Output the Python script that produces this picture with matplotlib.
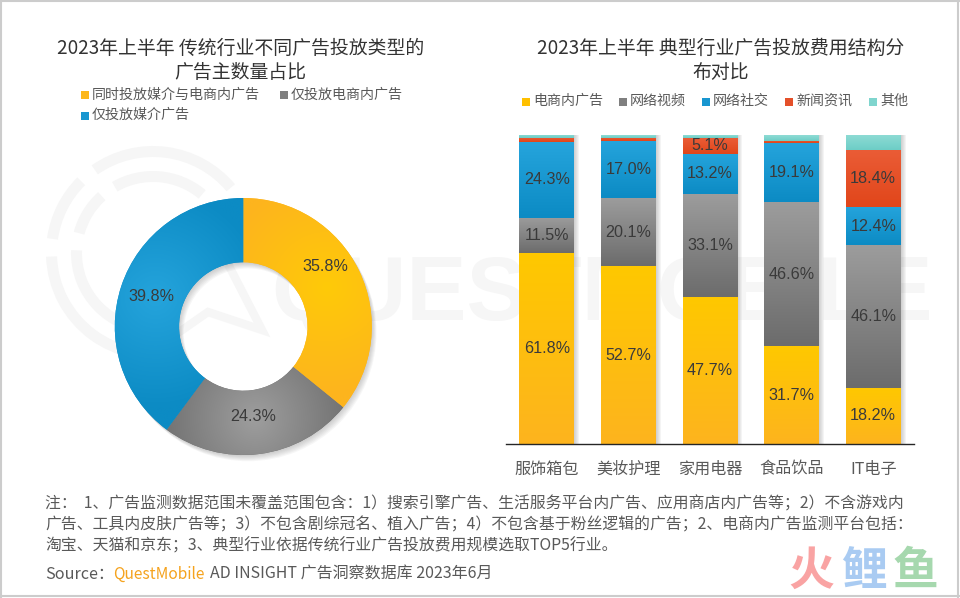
#!/usr/bin/env python3
"""2023 H1 ad placement: donut of advertiser share and stacked bars of spend structure."""
import numpy as np
import matplotlib
matplotlib.use("Agg")
import matplotlib.pyplot as plt
from matplotlib.colors import to_rgb
from matplotlib.patches import Rectangle, Wedge
from matplotlib.lines import Line2D

plt.rcParams["font.family"] = ["Noto Sans CJK SC", "DejaVu Sans"]

W, H = 960, 598

# donut
pie_names = ["同时投放媒介与电商内广告", "仅投放电商内广告", "仅投放媒介广告"]
pie_values = [35.8, 24.3, 39.8]

# stacked bars, the source chart is 100% stacked so each column is rescaled to its own total
categories = ["服饰箱包", "美妆护理", "家用电器", "食品饮品", "IT电子"]
series_names = ["电商内广告", "网络视频", "网络社交", "新闻资讯", "其他"]
ecommerce = [61.8, 52.7, 47.7, 31.7, 18.2]
video = [11.5, 20.1, 33.1, 46.6, 46.1]
social = [24.3, 17.0, 13.2, 19.1, 12.4]
news = [1.3, 0.9, 5.1, 0.8, 18.4]
other = [1.1, 0.8, 0.9, 1.8, 4.9]

note_lines = [
    "注：  1、广告监测数据范围未覆盖范围包含：1）搜索引擎广告、生活服务平台内广告、应用商店内广告等；2）不含游戏内",
    "广告、工具内皮肤广告等；3）不包含剧综冠名、植入广告；4）不包含基于粉丝逻辑的广告；2、电商内广告监测平台包括：",
    "淘宝、天猫和京东；3、典型行业依据传统行业广告投放费用规模选取TOP5行业。",
]

YELLOW = ("#FFC800", "#FDB41E")
GREY = ("#9C9C9C", "#6C6C6C")
BLUE = ("#25A4DC", "#0C8BC4")
RED = ("#EA5C36", "#E1461A")
TEAL = ("#8FDCD5", "#6DCDC6")
series_colors = [YELLOW, GREY, BLUE, RED, TEAL]
TEXT = "#595959"
LABEL = "#3A3A3A"


def fx(px):
    return px / W


def fy(py):
    return 1 - py / H


def box(left, top, right, bottom):
    return [fx(left), fy(bottom), (right - left) / W, (bottom - top) / H]


def put(x, y, s, size, color=TEXT, ha="left", **kw):
    return fig.text(fx(x), fy(y), s, fontsize=size, color=color, ha=ha, va="center", **kw)


def v_grad(ax, rect, colors):
    x, y = rect.get_xy()
    top, bot = np.array(to_rgb(colors[0])), np.array(to_rgb(colors[1]))
    t = np.linspace(0, 1, 64)[:, None, None]
    img = top * (1 - t) + bot * t
    ax.imshow(img, extent=(x, x + rect.get_width(), y, y + rect.get_height()),
              aspect="auto", origin="upper", zorder=3, interpolation="bilinear")


fig = plt.figure(figsize=(W / 100, H / 100), dpi=100, facecolor="white")

# watermark, behind everything
bg = fig.add_axes([0, 0, 1, 1], zorder=0)
bg.set_xlim(0, W)
bg.set_ylim(H, 0)
bg.axis("off")
WM = "#F6F6F6"
for r, spans in [(107, [(40, 125), (135, 172), (182, 285)]), (82, [(50, 120), (132, 165), (178, 270)])]:
    for a0, a1 in spans:
        # y axis is flipped here, so angles are mirrored
        bg.add_patch(Wedge((153, 253), r, 360 - a1, 360 - a0, width=11, fc=WM, ec="none"))
bg.add_line(Line2D([227, 262, 208, 175], [262, 330, 312, 335], color=WM, lw=6, solid_joinstyle="miter"))
bg.text(602, 296, "QUESTMOBILE", fontsize=65, color=WM, ha="center", va="center",
        family="Liberation Sans", fontweight="bold")

# frame of the slide
for xs, ys in [((0, W), (1, 1)), ((1, 1), (0, H)), ((W - 2, W - 2), (0, H)), ((0, W), (H - 2, H - 2))]:
    bg.add_line(Line2D(xs, ys, color="#CCCCCC", lw=1.5))

# donut
R_PX = 128.5
LIM = 1.12
cx, cy = 243.3, 326.5
half = R_PX * LIM
ax_pie = fig.add_axes(box(cx - half, cy - half, cx + half, cy + half), zorder=2)
ax_pie.patch.set_alpha(0)
for k in range(1, 7):
    off = k * 0.65 / R_PX
    ax_pie.add_patch(Wedge((off * 1.2, -off * 1.6), 1.0, 0, 360, width=0.5, fc="#555555",
                           ec="none", alpha=0.05, zorder=1))
wedges, _ = ax_pie.pie(pie_values, startangle=90, counterclock=False, radius=1.0,
                       wedgeprops=dict(width=0.5, ec="none"),
                       colors=[c[1] for c in (YELLOW, GREY, BLUE)])
grid = np.linspace(-1.02, 1.02, 420)
gx, gy = np.meshgrid(grid, grid)
pie_grad = [("#FFCA08", "#FDB41E"), ("#9E9E9E", "#6A6A6A"), ("#25A4DC", "#0C8BC4")]
label_shift = [(-5, -19), (-2, -5), (-1, 0)]
for w, cols, val, shift in zip(wedges, pie_grad, pie_values, label_shift):
    mid = np.radians((w.theta1 + w.theta2) / 2)
    c0, c1 = np.array(to_rgb(cols[0])), np.array(to_rgb(cols[1]))
    d = np.hypot(gx - 0.72 * np.cos(mid), gy - 0.72 * np.sin(mid))
    t = np.clip(d / 0.85, 0, 1)[:, :, None]
    im = ax_pie.imshow(c0 * (1 - t) + c1 * t, extent=(-1.02, 1.02, -1.02, 1.02),
                       origin="lower", zorder=3, interpolation="bilinear")
    im.set_clip_path(w)
    ax_pie.annotate(f"{val:.1f}%", (0.747 * np.cos(mid), 0.747 * np.sin(mid)),
                    xytext=(shift[0] * 0.72, -shift[1] * 0.72), textcoords="offset points",
                    ha="center", va="center", fontsize=11.6, color=LABEL,
                    family="Liberation Sans", zorder=5)
ax_pie.set_xlim(-LIM, LIM)
ax_pie.set_ylim(-LIM, LIM)
ax_pie.set_aspect("equal")
ax_pie.axis("off")

# stacked bars
ax = fig.add_axes(box(506, 135, 914, 444), zorder=2)
ax.patch.set_alpha(0)
series = [ecommerce, video, social, news, other]
totals = np.sum(series, axis=0)
x = np.arange(len(categories))
bar_w = 0.67
px_x = 5 / 408  # one pixel along x in category units

for k in range(1, 6):
    ax.bar(x + k * px_x, 100, width=bar_w, color="#707070", alpha=0.07, zorder=1, linewidth=0)

bottom = np.zeros(len(categories))
for vals, cols in zip(series, series_colors):
    shares = np.array(vals) / totals * 100
    bars = ax.bar(x, shares, width=bar_w, bottom=bottom, color=cols[1], zorder=2, linewidth=0)
    for b, share, val in zip(bars, shares, vals):
        v_grad(ax, b, cols)
        if val >= 5:
            ax.text(b.get_x() + b.get_width() / 2, b.get_y() + share / 2, f"{val:.1f}%",
                    ha="center", va="center", fontsize=11.6, color=LABEL,
                    family="Liberation Sans", zorder=5)
    bottom += shares

ax.set_xlim(-0.5, 4.5)
ax.set_ylim(0, 100)
ax.set_yticks([])
ax.set_xticks(x, categories, fontsize=11.6, color=TEXT)
ax.tick_params(axis="x", length=0, pad=12)
for side in ("top", "left", "right"):
    ax.spines[side].set_visible(False)
ax.spines["bottom"].set_color("#262626")
ax.spines["bottom"].set_linewidth(1.0)
ax.spines["bottom"].set_zorder(6)

# titles
put(240.5, 48, "2023年上半年 传统行业不同广告投放类型的", 13.6, "#333333", ha="center")
put(240.5, 72.5, "广告主数量占比", 13.6, "#333333", ha="center")
put(720.5, 48, "2023年上半年 典型行业广告投放费用结构分", 13.6, "#333333", ha="center")
put(720.5, 72.5, "布对比", 13.6, "#333333", ha="center")


# legends, placed by hand because the source wraps them unevenly
def legend_item(x0, y0, name, color):
    fig.add_artist(Rectangle((fx(x0), fy(y0 + 4)), 8 / W, 8 / H, transform=fig.transFigure,
                             fc=color, ec="none", zorder=4))
    put(x0 + 11, y0 - 0.5, name, 10.1, zorder=4)


left_pos = [(81, 95), (280, 95), (81, 115.5)]
for (lx, ly), name, c in zip(left_pos, pie_names, ["#FDB71A", "#7F7F7F", "#1896D0"]):
    legend_item(lx, ly, name, c)
right_x = [522, 619, 702, 785, 869]
for lx, name, c in zip(right_x, series_names, ["#FFC000", "#7F7F7F", "#1896D0", "#E4502A", "#7FD5CE"]):
    legend_item(lx, 101.5, name, c)

# notes and source
for y, line in zip([504, 525, 546], note_lines):
    put(45, y, line, 11.4, zorder=4)
put(45, 574, "Source：", 11.6, zorder=4)
put(113, 574, "QuestMobile", 11.2, "#F5A31E", zorder=4)
put(210, 574, "AD INSIGHT 广告洞察数据库 2023年6月", 11.5, zorder=4)

# site mark, bottom right
put(811, 572, "火", 33, "#F9A3A3", ha="center", fontweight="bold", zorder=4)
put(864, 572, "鲤", 33, "#A9CBF2", ha="center", fontweight="bold", zorder=4)
put(915, 572, "鱼", 33, "#A6D8AE", ha="center", fontweight="bold", zorder=4)

fig.savefig("out.png", dpi=100)
